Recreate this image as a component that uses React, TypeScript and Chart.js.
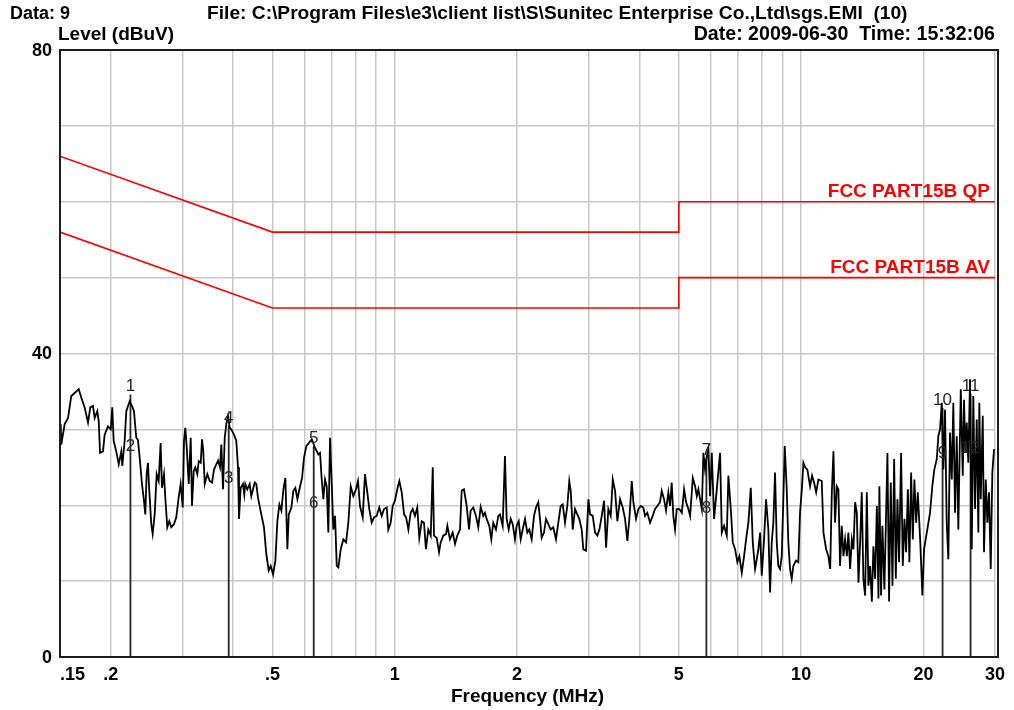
import React, { useEffect, useRef } from "react";
import { Chart, registerables } from "chart.js";

Chart.register(...registerables);

const FONT = '"Liberation Sans", Arial, sans-serif';

const headerData = "Data: 9";
const headerFile = "File: C:\\Program Files\\e3\\client list\\S\\Sunitec Enterprise Co.,Ltd\\sgs.EMI  (10)";
const headerDate = "Date: 2009-06-30  Time: 15:32:06";
const yAxisTitle = "Level (dBuV)";
const xAxisTitle = "Frequency (MHz)";

const gridFreqs = [0.15, 0.2, 0.3, 0.4, 0.5, 0.6, 0.7, 0.8, 0.9, 1, 2, 3, 4, 5, 6, 7, 8, 9, 10, 20, 30];
const gridLevels = [0, 10, 20, 30, 40, 50, 60, 70, 80];
const xTickValues = [0.15, 0.2, 0.5, 1, 2, 5, 10, 20, 30];
const xTickLabels = [".15", ".2", ".5", "1", "2", "5", "10", "20", "30"];
const yTickValues = [0, 40, 80];

// FCC Part 15B limit lines
const qpLimitFreq = [0.15, 0.5, 5, 5, 30];
const qpLimitLevel = [66, 56, 56, 60, 60];
const avLimitFreq = [0.15, 0.5, 5, 5, 30];
const avLimitLevel = [56, 46, 46, 50, 50];
const qpLimitName = "FCC PART15B QP";
const avLimitName = "FCC PART15B AV";

// Markers
const markerNames = ["1", "2", "3", "4", "5", "6", "7", "8", "9", "10", "11", "12"];
const markerFreq = [0.2236, 0.2236, 0.3902, 0.3902, 0.6317, 0.6317, 5.846, 5.846, 22.29, 22.29, 26.12, 26.12];
const markerLevel = [34.6, 26.8, 22.5, 30.5, 27.8, 19.2, 26.2, 18.6, 25.8, 32.8, 34.7, 26.5];

// Measured trace, 0.15 - 0.5 MHz
const freqBand1 = [
  0.1506, 0.1511, 0.1540, 0.1570, 0.1599, 0.1630, 0.1668, 0.1692, 0.1725, 0.1758,
  0.1781, 0.1808, 0.1826, 0.1853, 0.1868, 0.1882, 0.1914, 0.1932, 0.1969, 0.2000,
  0.2017, 0.2033, 0.2063, 0.2092, 0.2123, 0.2135, 0.2164, 0.2184, 0.2226, 0.2255,
  0.2281, 0.2311, 0.2333, 0.2356, 0.2387, 0.2414, 0.2432, 0.2451, 0.2469, 0.2488,
  0.2516, 0.2536, 0.2565, 0.2594, 0.2624, 0.2653, 0.2673, 0.2704, 0.2724, 0.2755,
  0.2786, 0.2818, 0.2861, 0.2899, 0.2938, 0.2972, 0.3007, 0.3029, 0.3051, 0.3076,
  0.3111, 0.3146, 0.3169, 0.3200, 0.3229, 0.3266, 0.3292, 0.3330, 0.3354, 0.3379,
  0.3406, 0.3457, 0.3504, 0.3550, 0.3590, 0.3637, 0.3673, 0.3714, 0.3742, 0.3778,
  0.3815, 0.3849, 0.3887, 0.3924, 0.3960, 0.4020, 0.4073, 0.4113, 0.4136, 0.4176,
  0.4231, 0.4262, 0.4286, 0.4335, 0.4394, 0.4435, 0.4521, 0.4562, 0.4606, 0.4693,
  0.4765, 0.4828, 0.4894, 0.4950,
];
const levelBand1 = [
  30.7, 28.0, 30.7, 31.5, 34.4, 34.8, 35.3, 34.2, 32.9, 30.9,
  32.9, 33.1, 31.5, 32.4, 31.1, 26.9, 27.1, 29.3, 30.4, 30.0,
  32.9, 28.5, 27.1, 25.4, 27.1, 25.2, 28.5, 32.4, 33.7, 33.1,
  32.4, 28.9, 28.6, 26.3, 22.8, 20.6, 18.8, 24.1, 25.6, 21.9,
  17.5, 16.2, 18.8, 24.1, 23.2, 28.2, 22.3, 24.1, 21.0, 17.1,
  17.9, 17.1, 17.5, 18.4, 21.0, 22.8, 19.7, 28.5, 30.2, 27.6,
  22.8, 28.9, 19.9, 24.5, 25.0, 24.1, 25.8, 25.6, 28.7, 27.1,
  22.8, 24.1, 23.2, 23.0, 24.7, 25.4, 25.9, 25.0, 28.0, 22.1,
  28.9, 30.7, 31.8, 30.2, 30.0, 29.3, 28.5, 25.0, 18.2, 22.3,
  22.8, 21.4, 22.8, 22.1, 22.8, 21.2, 23.0, 22.8, 21.0, 18.8,
  17.1, 13.6, 11.4, 12.0,
];

// Measured trace, 0.5 - 5 MHz
const freqBand2 = [
  0.5017, 0.5083, 0.5141, 0.5200, 0.5259, 0.5319, 0.5379, 0.5440, 0.5484, 0.5565,
  0.5629, 0.5693, 0.5758, 0.5836, 0.5913, 0.5980, 0.6058, 0.6246, 0.6364, 0.6484,
  0.6547, 0.6610, 0.6671, 0.6735, 0.6800, 0.6862, 0.6929, 0.7000, 0.7060, 0.7128,
  0.7197, 0.7263, 0.7362, 0.7471, 0.7587, 0.7686, 0.7791, 0.7907, 0.8027, 0.8118,
  0.8211, 0.8338, 0.8447, 0.8558, 0.8655, 0.8774, 0.8889, 0.9025, 0.9159, 0.9285,
  0.9407, 0.9552, 0.9639, 0.9771, 0.9882, 1.001, 1.014, 1.026, 1.040, 1.054,
  1.066, 1.080, 1.094, 1.107, 1.121, 1.136, 1.149, 1.165, 1.180, 1.193,
  1.209, 1.226, 1.240, 1.249, 1.268, 1.285, 1.297, 1.316, 1.337, 1.347,
  1.367, 1.388, 1.407, 1.425, 1.447, 1.461, 1.480, 1.503, 1.523, 1.537,
  1.560, 1.584, 1.605, 1.627, 1.651, 1.667, 1.683, 1.708, 1.728, 1.747,
  1.774, 1.798, 1.815, 1.843, 1.867, 1.885, 1.907, 1.929, 1.951, 1.976,
  1.995, 2.018, 2.041, 2.064, 2.092, 2.119, 2.143, 2.172, 2.201, 2.226,
  2.255, 2.277, 2.299, 2.329, 2.356, 2.387, 2.419, 2.455, 2.493, 2.526,
  2.560, 2.590, 2.624, 2.658, 2.688, 2.710, 2.741, 2.777, 2.813, 2.845,
  2.884, 2.910, 2.955, 2.995, 3.024, 3.070, 3.111, 3.152, 3.188, 3.231,
  3.274, 3.311, 3.354, 3.400, 3.439, 3.484, 3.530, 3.584, 3.639, 3.687,
  3.736, 3.778, 3.830, 3.865, 3.924, 3.976, 4.030, 4.089, 4.129, 4.183,
  4.248, 4.313, 4.370, 4.427, 4.495, 4.539, 4.598, 4.651, 4.712, 4.757,
  4.803, 4.847, 4.894, 4.941,
];
const levelBand2 = [
  10.9, 12.7, 17.9, 20.1, 19.3, 22.1, 23.6, 14.2, 18.8, 19.7,
  21.9, 22.3, 20.8, 22.3, 23.6, 26.3, 27.8, 28.7, 27.6, 26.7,
  26.9, 23.4, 20.8, 23.4, 22.5, 16.4, 28.9, 22.5, 16.8, 18.6,
  12.0, 11.8, 14.2, 15.5, 15.1, 17.7, 22.5, 21.2, 22.1, 23.2,
  19.9, 18.4, 24.1, 21.7, 19.5, 17.7, 18.4, 18.6, 19.7, 18.6,
  19.5, 19.7, 16.8, 17.7, 19.9, 20.6, 22.1, 23.2, 21.7, 18.8,
  18.4, 16.8, 19.0, 19.5, 18.6, 19.7, 15.7, 17.9, 17.7, 14.2,
  16.8, 16.0, 25.0, 16.0, 15.7, 13.8, 15.1, 16.0, 16.2, 17.3,
  15.5, 16.4, 14.9, 16.0, 16.8, 21.9, 22.1, 19.9, 16.8, 19.3,
  19.7, 18.6, 17.1, 19.8, 18.6, 19.0, 18.2, 17.3, 15.5, 17.7,
  16.8, 18.6, 18.8, 17.3, 26.5, 18.2, 16.8, 18.2, 17.5, 15.5,
  17.3, 17.9, 15.5, 16.8, 18.2, 16.4, 16.8, 15.5, 18.6, 19.7,
  20.4, 18.2, 15.7, 16.4, 18.2, 17.5, 16.8, 17.1, 15.5, 17.7,
  19.9, 20.1, 17.7, 19.9, 23.2, 21.9, 16.8, 19.5, 18.8, 18.2,
  16.8, 14.2, 14.0, 20.8, 18.8, 18.6, 16.4, 16.0, 16.8, 18.6,
  20.6, 14.4, 19.5, 18.6, 23.4, 21.9, 17.9, 20.8, 19.7, 18.2,
  15.3, 18.2, 23.2, 20.4, 18.2, 19.5, 19.9, 19.7, 18.6, 19.0,
  17.7, 18.6, 19.5, 19.9, 20.4, 21.9, 20.8, 19.3, 21.7, 19.9,
  23.0, 18.6, 16.8, 19.5,
];

// Measured trace, 5 - 30 MHz
const freqBand3 = [
  5.017, 5.086, 5.152, 5.211, 5.279, 5.331, 5.413, 5.484, 5.537, 5.587,
  5.641, 5.696, 5.748, 5.803, 5.860, 5.913, 5.970, 6.028, 6.106, 6.200,
  6.317, 6.379, 6.462, 6.562, 6.622, 6.712, 6.789, 6.878, 6.968, 7.048,
  7.144, 7.238, 7.321, 7.417, 7.518, 7.603, 7.704, 7.778, 7.849, 7.925,
  8.000, 8.105, 8.198, 8.305, 8.386, 8.466, 8.543, 8.626, 8.710, 8.789,
  8.874, 8.960, 9.041, 9.113, 9.217, 9.301, 9.391, 9.481, 9.568, 9.715,
  9.843, 9.938, 10.04, 10.13, 10.23, 10.36, 10.52, 10.64, 10.76, 10.89,
  11.03, 11.24, 11.35, 11.52, 11.67, 11.79, 11.90, 12.01, 12.12, 12.24,
  12.35, 12.47, 12.59, 12.71, 12.83, 12.96, 13.07, 13.20, 13.33, 13.45,
  13.58, 13.71, 13.84, 13.97, 14.10, 14.23, 14.37, 14.51, 14.64, 14.78,
  14.93, 15.06, 15.21, 15.36, 15.50, 15.58, 15.73, 15.85, 16.03, 16.16,
  16.31, 16.46, 16.62, 16.78, 16.94, 17.10, 17.26, 17.42, 17.62, 17.79,
  17.96, 18.13, 18.31, 18.47, 18.65, 18.83, 19.00, 19.19, 19.37, 19.63,
  19.88, 20.07, 20.38, 20.76, 21.03, 21.27, 21.57, 21.76, 21.97, 22.19,
  22.39, 22.60, 22.82, 23.03, 23.25, 23.48, 23.69, 23.92, 24.15, 24.37,
  24.71, 24.99, 25.17, 25.36, 25.56, 25.79, 26.04, 26.30, 26.53, 26.79,
  27.05, 27.30, 27.45, 27.67, 27.99, 28.19, 28.47, 28.73, 29.00, 29.28,
  29.55, 29.84,
];
const levelBand3 = [
  19.5, 19.0, 22.1, 20.4, 19.5, 18.6, 23.6, 22.5, 21.2, 22.1,
  20.8, 19.5, 26.9, 24.7, 26.5, 27.4, 21.2, 26.9, 18.2, 22.1,
  26.9, 16.4, 17.3, 16.0, 23.9, 19.5, 15.1, 14.2, 12.5, 13.3,
  11.1, 13.3, 15.5, 17.7, 22.3, 15.1, 11.6, 12.9, 14.2, 16.4,
  10.7, 15.5, 20.8, 16.8, 8.5, 15.1, 17.7, 24.3, 15.1, 12.0,
  11.6, 13.3, 20.8, 27.8, 22.1, 15.1, 11.6, 10.3, 12.0, 12.7,
  12.5, 19.0, 22.1, 25.6, 25.0, 24.7, 22.5, 23.9, 23.0, 21.7,
  23.4, 23.2, 16.4, 14.2, 13.3, 11.6, 21.7, 27.1, 17.7, 22.5,
  22.1, 12.0, 17.3, 13.3, 15.5, 13.3, 16.4, 11.6, 15.5, 14.2,
  20.4, 19.0, 9.8, 15.1, 21.7, 10.3, 8.1, 21.7, 9.4, 12.0,
  7.3, 14.6, 10.3, 19.9, 7.7, 22.5, 8.1, 17.3, 8.9, 17.3,
  26.9, 7.3, 23.0, 9.4, 26.1, 10.3, 20.8, 12.5, 26.9, 12.0,
  18.2, 13.8, 22.1, 12.5, 24.3, 15.5, 23.4, 17.7, 21.7, 15.5,
  8.1, 14.2, 16.4, 19.0, 22.5, 24.7, 26.1, 29.1, 30.0, 33.5,
  24.7, 32.6, 17.7, 12.9, 29.6, 23.4, 33.5, 19.0, 29.1, 16.8,
  35.3, 23.9, 33.9, 26.9, 30.9, 25.6, 36.6, 14.2, 34.4, 19.5,
  31.3, 16.4, 33.5, 20.8, 31.8, 13.8, 23.4, 17.7, 21.7, 11.6,
  24.3, 27.4,
];

const toPoints = (xs: number[], ys: number[]) => xs.map((x, i) => ({ x, y: ys[i] }));

export default function App() {
  const canvasRef = useRef<HTMLCanvasElement | null>(null);

  useEffect(() => {
    const canvas = canvasRef.current;
    if (!canvas) return;

    const traceFreq = [...freqBand1, ...freqBand2, ...freqBand3];
    const traceLevel = [...levelBand1, ...levelBand2, ...levelBand3];

    const markerLineSets: any[] = [];
    for (let i = 0; i < markerFreq.length; i += 2) {
      const top = Math.max(markerLevel[i], markerLevel[i + 1]);
      markerLineSets.push({
        data: [
          { x: markerFreq[i], y: 0 },
          { x: markerFreq[i], y: top },
        ],
        borderColor: "#262626",
        borderWidth: 1.8,
        pointRadius: 0,
      });
    }

    const labelPlugin = {
      id: "emiLabels",
      afterDraw(chart: any) {
        const { ctx, chartArea: a, scales } = chart;
        const xs = scales.x;
        const ys = scales.y;
        ctx.save();
        // frame
        ctx.strokeStyle = "#1e1e1e";
        ctx.lineWidth = 2;
        ctx.strokeRect(a.left, a.top, a.right - a.left + 3, a.bottom - a.top);

        ctx.fillStyle = "#000";
        ctx.textBaseline = "middle";
        ctx.textAlign = "left";
        ctx.font = `bold 18px ${FONT}`;
        ctx.fillText(headerData, 10, 14);
        ctx.font = `bold 19.2px ${FONT}`;
        ctx.fillText(headerFile, 207, 14);
        ctx.font = `bold 19px ${FONT}`;
        ctx.fillText(yAxisTitle, 58, 35);
        ctx.textAlign = "right";
        ctx.font = `bold 19.6px ${FONT}`;
        ctx.fillText(headerDate, 995, 35);

        // y tick labels
        ctx.font = `bold 18px ${FONT}`;
        ctx.textAlign = "right";
        yTickValues.forEach((v) => {
          ctx.fillText(String(v), a.left - 8, ys.getPixelForValue(v) + 1);
        });
        // x tick labels
        xTickValues.forEach((v, i) => {
          const px = xs.getPixelForValue(v);
          ctx.textAlign = i === 0 ? "left" : "center";
          ctx.fillText(xTickLabels[i], i === 0 ? a.left : px, a.bottom + 18);
        });
        // x title
        ctx.textAlign = "center";
        ctx.font = `bold 19px ${FONT}`;
        ctx.fillText(xAxisTitle, (a.left + a.right) / 2, 697);

        // limit labels
        ctx.fillStyle = "#ff0000";
        ctx.font = `bold 19px ${FONT}`;
        ctx.textAlign = "right";
        ctx.textBaseline = "alphabetic";
        const xr = xs.getPixelForValue(qpLimitFreq[qpLimitFreq.length - 1]) - 5;
        ctx.fillText(qpLimitName, xr, ys.getPixelForValue(qpLimitLevel[qpLimitLevel.length - 1]) - 5);
        ctx.fillText(avLimitName, xr, ys.getPixelForValue(avLimitLevel[avLimitLevel.length - 1]) - 5);

        // marker labels
        ctx.fillStyle = "#262626";
        ctx.font = `17px ${FONT}`;
        ctx.textAlign = "center";
        markerNames.forEach((name, i) => {
          ctx.fillText(name, xs.getPixelForValue(markerFreq[i]), ys.getPixelForValue(markerLevel[i]) - 3);
        });
        ctx.restore();
      },
    };

    const chart = new Chart(canvas, {
      type: "line",
      data: {
        datasets: [
          {
            data: toPoints(traceFreq, traceLevel),
            borderColor: "#000000",
            borderWidth: 1.8,
            pointRadius: 0,
            tension: 0,
          },
          ...markerLineSets,
          {
            data: toPoints(qpLimitFreq, qpLimitLevel),
            borderColor: "#ff0000",
            borderWidth: 1.6,
            pointRadius: 0,
          },
          {
            data: toPoints(avLimitFreq, avLimitLevel),
            borderColor: "#ff0000",
            borderWidth: 1.6,
            pointRadius: 0,
          },
        ],
      },
      options: {
        animation: false,
        responsive: false,
        devicePixelRatio: 1,
        layout: { padding: { left: 60, top: 50, right: 19, bottom: 53 } },
        plugins: { legend: { display: false }, tooltip: { enabled: false } },
        scales: {
          x: {
            type: "logarithmic",
            min: 0.15,
            max: 30,
            afterBuildTicks: (scale: any) => {
              scale.ticks = gridFreqs.map((v) => ({ value: v }));
            },
            ticks: { display: false },
            grid: { color: "#c8c8c8", lineWidth: 1.5, drawTicks: false },
            border: { display: false },
          },
          y: {
            type: "linear",
            min: 0,
            max: 80,
            afterBuildTicks: (scale: any) => {
              scale.ticks = gridLevels.map((v) => ({ value: v }));
            },
            ticks: { display: false },
            grid: { color: "#c8c8c8", lineWidth: 1.5, drawTicks: false },
            border: { display: false },
          },
        },
      },
      plugins: [labelPlugin],
    } as any);

    return () => chart.destroy();
  }, []);

  return (
    <div style={{ position: "fixed", left: 0, top: 0, width: 1014, height: 710, background: "#ffffff" }}>
      <canvas ref={canvasRef} width={1014} height={710} style={{ display: "block" }} />
    </div>
  );
}
